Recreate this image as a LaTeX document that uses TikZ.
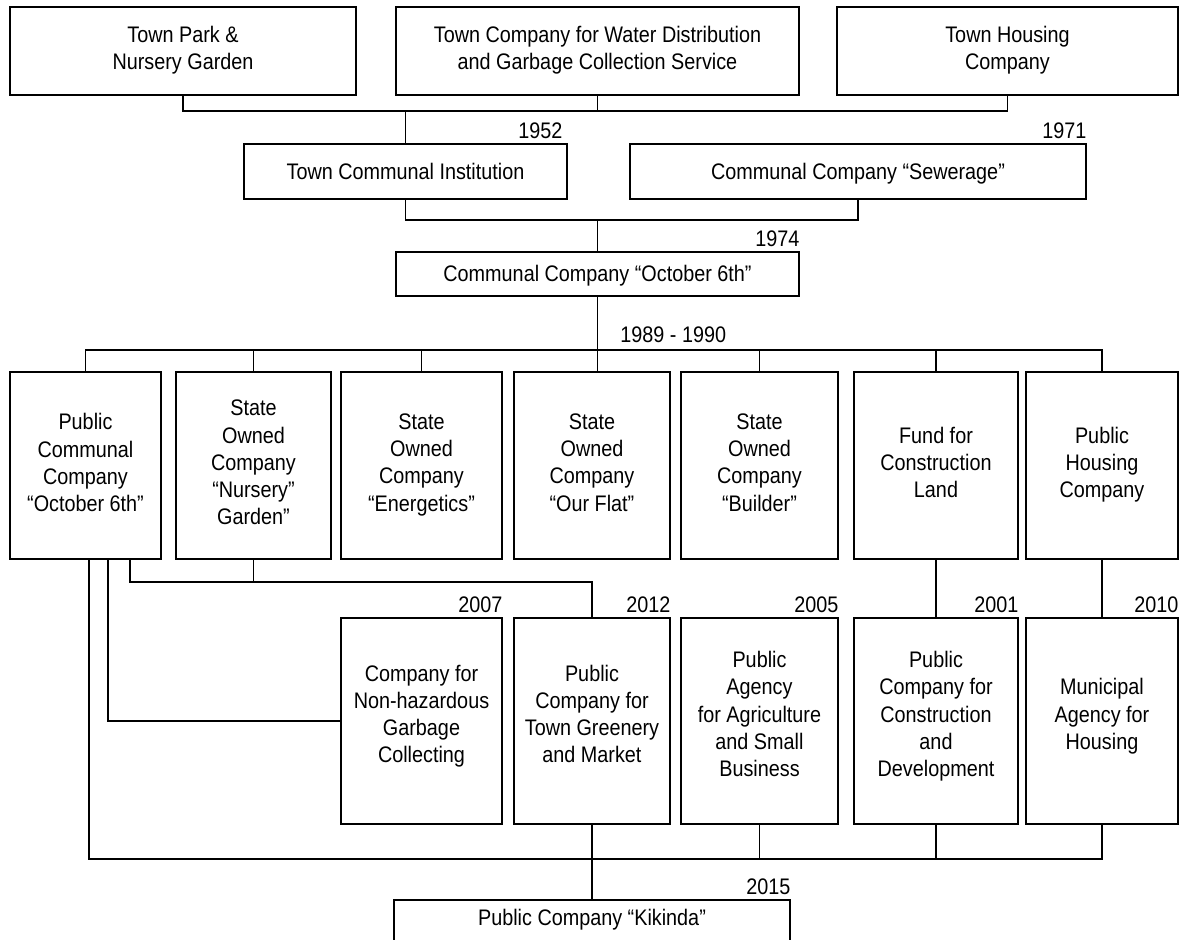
\documentclass[tikz,border=0pt]{standalone}
\usepackage{fontspec}
\setmainfont{Liberation Sans}[FakeStretch=0.88]
\begin{document}
\begin{tikzpicture}[x=0.5pt,y=-0.5pt,
  every node/.style={font=\fontsize{11.25pt}{13.6pt}\selectfont},
  basebox/.style={draw, line width=0.8pt, align=center, inner sep=0pt},
  box/.style={basebox,
    execute at begin node={\rule{0pt}{11pt}},
    execute at end node={\rule[-3pt]{0pt}{3pt}}},
  boxlow/.style={basebox, minimum height=93.5pt,
    execute at begin node={\rule{0pt}{17.5pt}},
    execute at end node={\rule[-3pt]{0pt}{3pt}}},
  boxhigh/.style={basebox, minimum height=103pt,
    execute at begin node={\rule{0pt}{11pt}},
    execute at end node={\rule[-7pt]{0pt}{7pt}}},
  conn/.style={line width=0.8pt},
  yr/.style={inner sep=0pt, anchor=south east, yshift=2.25pt}
]
\useasboundingbox (0,0) rectangle (1185,940);

% top row
\node[box, minimum width=173pt, minimum height=44pt] (A) at (183,51) {Town Park \&\\Nursery Garden};
\node[box, minimum width=201.5pt, minimum height=44pt] (B) at (597.5,51) {Town Company for Water Distribution\\and Garbage Collection Service};
\node[box, minimum width=170.5pt, minimum height=44pt] (C) at (1007.5,51) {Town Housing\\Company};

% second row
\node[box, minimum width=161.5pt, minimum height=27.5pt] (TCI) at (405.5,171.5) {Town Communal Institution};
\node[box, minimum width=228pt, minimum height=27.5pt] (CCS) at (858,171.5) {Communal Company “Sewerage”};

% third
\node[box, minimum width=201.5pt, minimum height=22pt] (CCO) at (597.5,274) {Communal Company “October 6th”};

% row of 1989-1990
\node[boxlow, minimum width=75.5pt] (b1) at (85.5,465.5) {Public\\Communal\\Company\\“October 6th”};
\node[boxlow, minimum width=77.5pt] (b2) at (253.5,465.5) {State\\Owned\\Company\\“Nursery”\\Garden”};
\node[boxlow, minimum width=80.5pt] (b3) at (421.5,465.5) {State\\Owned\\Company\\“Energetics”};
\node[boxlow, minimum width=78pt] (b4) at (592,465.5) {State\\Owned\\Company\\“Our Flat”};
\node[boxlow, minimum width=78.5pt] (b5) at (759.5,465.5) {State\\Owned\\Company\\“Builder”};
\node[boxlow, minimum width=82pt] (b6) at (936,465.5) {Fund for\\Construction\\Land};
\node[boxlow, minimum width=76pt] (b7) at (1102,465.5) {Public\\Housing\\Company};

% later companies
\node[boxhigh, minimum width=80.5pt] (c8) at (421.5,721) {Company for\\Non-hazardous\\Garbage\\Collecting};
\node[boxhigh, minimum width=78pt] (c9) at (592,721) {Public\\Company for\\Town Greenery\\and Market};
\node[boxhigh, minimum width=78.5pt] (c10) at (759.5,721) {Public\\Agency\\for Agriculture\\and Small\\Business};
\node[boxhigh, minimum width=82pt] (c11) at (936,721) {Public\\Company for\\Construction\\and\\Development};
\node[boxhigh, minimum width=76pt] (c12) at (1102,721) {Municipal\\Agency for\\Housing};

% final
\node[boxhigh, minimum width=198pt, minimum height=22pt] (K) at (592,922) {Public Company “Kikinda”};

% years
\node[yr] (y1952) at ([xshift=-2.5pt]TCI.north east) {1952};
\node[yr] (y1971) at (CCS.north east) {1971};
\node[yr] (y1974) at (CCO.north east) {1974};
\node[yr, anchor=south west, yshift=1.25pt] (y1989) at (620,350) {1989 - 1990};
\node[yr] (y2007) at (c8.north east) {2007};
\node[yr] (y2012) at (c9.north east) {2012};
\node[yr] (y2005) at (c10.north east) {2005};
\node[yr] (y2001) at (c11.north east) {2001};
\node[yr] (y2010) at (c12.north east) {2010};
\node[yr] (y2015) at (K.north east) {2015};

% connectors
\coordinate (bus1) at (405.5,111);
\draw[conn] (A.south) |- (bus1) -| (C.south);
\draw[conn] (B.south) -- (B.south |- bus1);
\draw[conn] (bus1) -- (TCI.north);

\coordinate (bus2) at (597.5,220);
\draw[conn] (TCI.south) |- (bus2) -| (CCS.south);
\draw[conn] (bus2) -- (CCO.north);

\coordinate (bus3) at (597.5,350);
\draw[conn] (b1.north) |- (bus3) -| (b7.north);
\draw[conn] (CCO.south) -- (CCO.south |- b4.north);
\foreach \n in {b2,b3,b5,b6} \draw[conn] (\n.north) -- (\n.north |- bus3);

\path (b1.south) ++(3.5,0) coordinate (p1) ++(19,0) coordinate (p2) ++(22,0) coordinate (p3);

\coordinate (bus4) at (253.5,582);
\draw[conn] (p3) |- (bus4) -| (c9.north);
\draw[conn] (b2.south) -- (bus4);
\draw[conn] (p2) |- (c8.west);

\coordinate (bus5) at (592,859);
\draw[conn] (p1) |- (bus5) -| (c12.south);
\draw[conn] (c9.south) -- (K.north);
\draw[conn] (c10.south) -- (c10.south |- bus5);
\draw[conn] (c11.south) -- (c11.south |- bus5);

\draw[conn] (b6.south) -- (c11.north);
\draw[conn] (b7.south) -- (c12.north);
\end{tikzpicture}
\end{document}
